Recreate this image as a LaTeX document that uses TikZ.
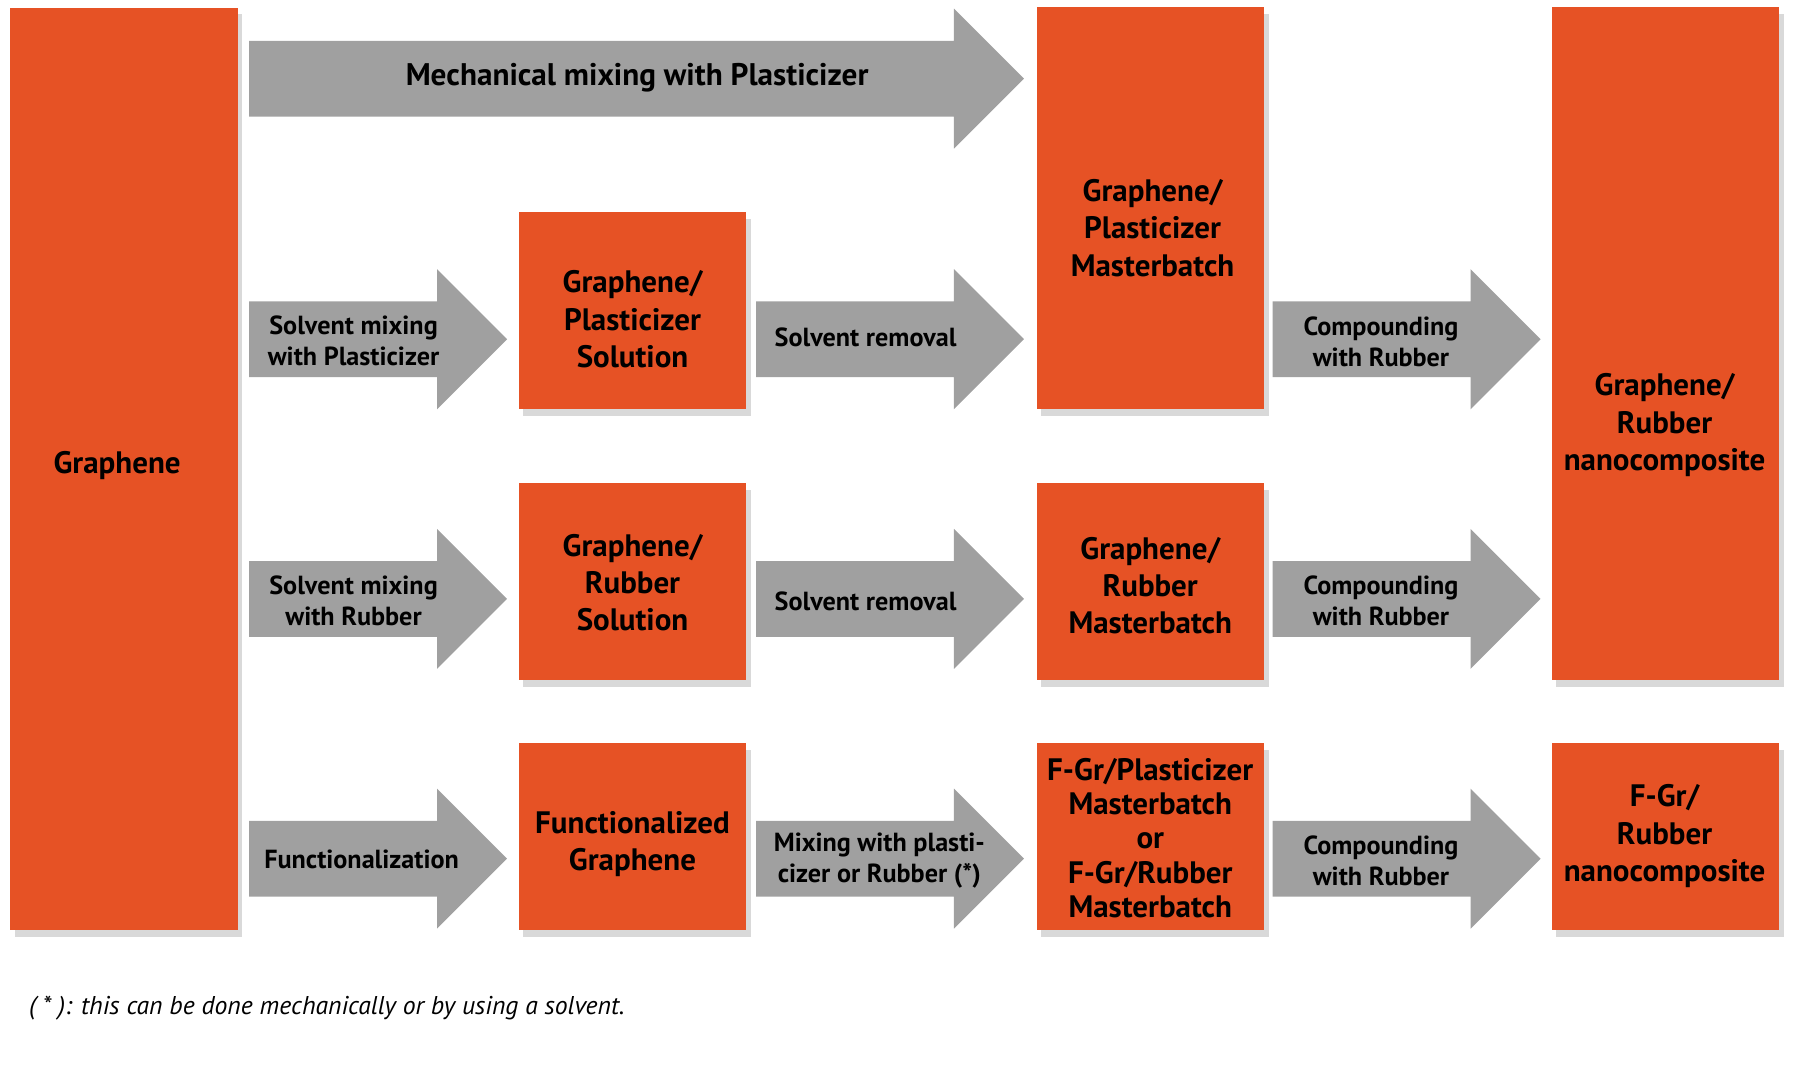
\documentclass[tikz,border=0pt]{standalone}
\usepackage{fontspec}
\setmainfont{PT Sans}
\usetikzlibrary{shadows}

\definecolor{rustorange}{RGB}{230,82,37}
\definecolor{stepgray}{RGB}{160,160,160}

\tikzset{
  matbox/.style={fill=rustorange, inner sep=0pt, minimum width=99pt,
    drop shadow={shadow xshift=2pt, shadow yshift=-3pt, opacity=0.3}},
  matlabel/.style={font=\bfseries\fontsize{13.5}{16.25}\selectfont, align=center, inner sep=0pt, yshift=-1.25pt},
  steplabel/.style={font=\bfseries\fontsize{11.4}{13.5}\selectfont, align=center, inner sep=0pt, yshift=-1pt},
  notelabel/.style={font=\itshape\fontsize{11.2}{13}\selectfont, inner sep=0pt}
}

% grey block arrow: tail x, tip x, centre y
\newcommand{\blockarrow}[3]{%
  \fill[stepgray] (#1,#3-33) -- (#2-61,#3-33) -- (#2-61,#3-61) -- (#2,#3)
    -- (#2-61,#3+61) -- (#2-61,#3+33) -- (#1,#3+33) -- cycle;}

\begin{document}
\begin{tikzpicture}[x=0.5pt, y=-0.5pt]
  \useasboundingbox (0,0) rectangle (1568,936.5);

  % Material boxes
  \node[matbox, minimum height=401.75pt] (graphene) at (108,408.3) {};
  \node[matbox, minimum height=86pt] (gpsol) at (551,270.6) {};
  \node[matbox, minimum height=175pt] (gpmb) at (1002,181.5) {};
  \node[matbox, minimum height=293pt] (grnano) at (1450.7,299.5) {};
  \node[matbox, minimum height=86pt] (grsol) at (551,506.5) {};
  \node[matbox, minimum height=86pt] (grmb) at (1002,506.5) {};
  \node[matbox, minimum height=81.2pt] (fgr) at (551,728.8) {};
  \node[matbox, minimum height=81.2pt] (fgrmb) at (1002,728.8) {};
  \node[matbox, minimum height=81.2pt] (fgrnano) at (1450.7,728.8) {};

  % Box texts
  \node[matlabel] (graphenetxt) at (102,403) {Graphene};
  \node[matlabel] (gpsoltxt) at (551,275.7) {Graphene/\\Plasticizer\\Solution};
  \node[matlabel] (gpmbtxt) at (1004,196) {Graphene/\\Plasticizer\\Masterbatch};
  \node[matlabel] (grnanotxt) at (1450,368) {Graphene/\\Rubber\\nanocomposite};
  \node[matlabel] (grsoltxt) at (551,505) {Graphene/\\Rubber\\Solution};
  \node[matlabel] (grmbtxt) at (1002,507.7) {Graphene/\\Rubber\\Masterbatch};
  \node[matlabel] (fgrtxt) at (551,732.5) {Functionalized\\Graphene};
  \node[matlabel, font=\bfseries\fontsize{13.5}{14.9}\selectfont] (fgrmbtxt) at (1002,727.6)
    {F-Gr/Plasticizer\\Masterbatch\\or\\F-Gr/Rubber\\Masterbatch};
  \node[matlabel] (fgrnanotxt) at (1450,726) {F-Gr/\\Rubber\\nanocomposite};

  % Row 1: mechanical route
  \blockarrow{217}{892}{68.5}
  \node[steplabel, font=\bfseries\fontsize{13.6}{16}\selectfont] (mechmix) at (555,66) {Mechanical mixing with Plasticizer};

  % Row 2: solvent route with plasticizer
  \blockarrow{217}{441.7}{295.5}
  \node[steplabel] (solvplast) at (308,294.5) {Solvent mixing\\with Plasticizer};
  \blockarrow{658.7}{892}{295.5}
  \node[steplabel] (remove1) at (754,292) {Solvent removal};
  \blockarrow{1108.6}{1342}{295.5}
  \node[steplabel] (compound1) at (1203,295.5) {Compounding\\with Rubber};

  % Row 3: solvent route with rubber
  \blockarrow{217}{441.7}{521.7}
  \node[steplabel] (solvrub) at (308,521.5) {Solvent mixing\\with Rubber};
  \blockarrow{658.7}{892}{521.7}
  \node[steplabel] (remove2) at (754,522) {Solvent removal};
  \blockarrow{1108.6}{1342}{521.7}
  \node[steplabel] (compound2) at (1203,521.5) {Compounding\\with Rubber};

  % Row 4: functionalized route
  \blockarrow{217}{441.7}{748}
  \node[steplabel] (funct) at (315,747) {Functionalization};
  \blockarrow{658.7}{892}{748}
  \node[steplabel] (mixany) at (766,747.5) {Mixing with plasti-\\cizer or Rubber (*)};
  \blockarrow{1108.6}{1342}{748}
  \node[steplabel] (compound3) at (1203,747.5) {Compounding\\with Rubber};

  % Footnote
  \node[notelabel, anchor=west] (note) at (25,878) {( * ): this can be done mechanically or by using a solvent.};
\end{tikzpicture}
\end{document}
